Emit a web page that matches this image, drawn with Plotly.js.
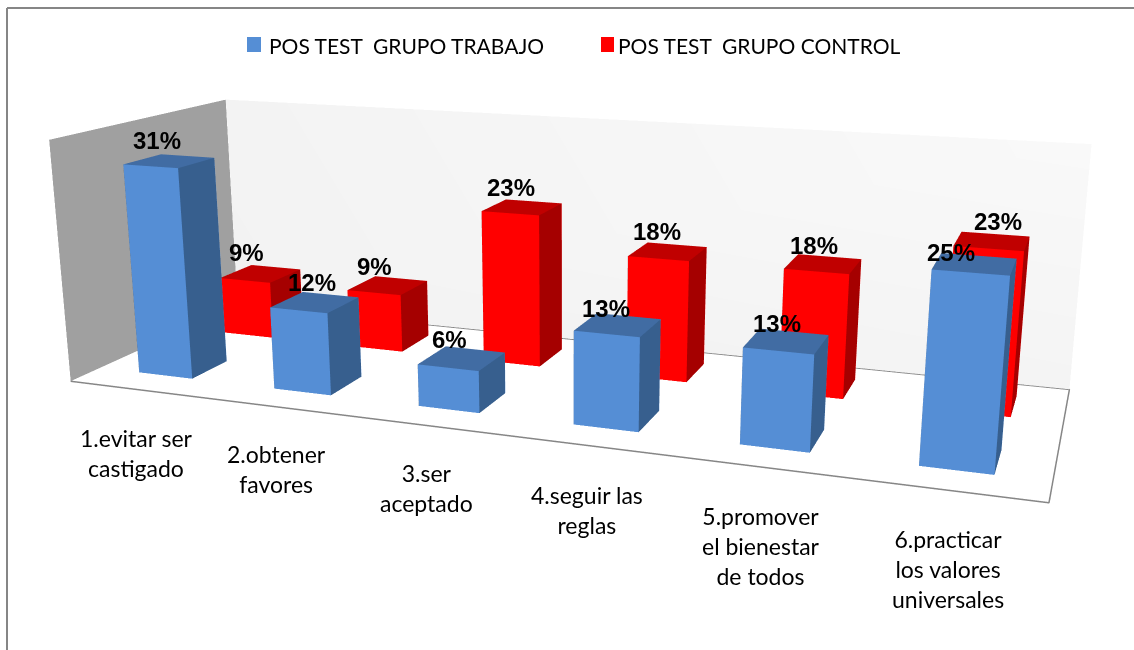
<!DOCTYPE html><html><head><script src="https://cdn.plot.ly/plotly-3.0.1.min.js"></script>
<style>html,body{margin:0;padding:0;overflow:hidden;background:#fff}#g{position:absolute;left:-567px;top:-325px;width:2268px;height:1300px}</style></head><body><div id="g"></div><script>
const categories=['1.evitar ser<br>castigado','2.obtener<br>favores','3.ser<br>aceptado','4.seguir las<br>reglas','5.promover<br>el bienestar<br>de todos','6.practicar<br>los valores<br>universales'];
const seriesNames=['POS TEST  GRUPO TRABAJO','POS TEST  GRUPO CONTROL'];
const trabajo=[31,12,6,13,13,25];
const control=[9,9,23,18,18,23];
const ZMAX=35.2;
const C=[1.2235,-3.3543,.8539,-.7209,1.9879,-.733],A=[2.2627,.7562,.5844];
const W2=2268,H2=1300;
function boxes(vals,y0,y1,x0,w,cf,cs,ct){const X=[],Y=[],Z=[],I=[],J=[],K=[],FC=[];vals.forEach((v,c)=>{const n=X.length,a=c+x0,b=a+w;[[a,y0,0],[b,y0,0],[b,y1,0],[a,y1,0],[a,y0,v],[b,y0,v],[b,y1,v],[a,y1,v]].forEach(p=>{X.push(p[0]);Y.push(p[1]);Z.push(p[2])});const q=(p,r,s,col)=>{I.push(n+p);J.push(n+r);K.push(n+s);FC.push(col)};q(0,1,5,cf);q(0,5,4,cf);q(1,2,6,cs);q(1,6,5,cs);q(4,5,6,ct);q(4,6,7,ct);q(3,2,6,cf);q(3,6,7,cf);q(0,3,7,cs);q(0,7,4,cs)});return {x:X,y:Y,z:Z,i:I,j:J,k:K,facecolor:FC}}
const flat={ambient:1,diffuse:0,specular:0,roughness:1,fresnel:0};
const base={type:'mesh3d',flatshading:true,lighting:flat,hoverinfo:'skip',showlegend:false,showscale:false};
const data=[
 Object.assign({},base,{x:[0,0,0,0],y:[0,1,1,0],z:[0,0,ZMAX,ZMAX],i:[0,0],j:[1,2],k:[2,3],color:'#a0a0a0'}),
 Object.assign({},base,{x:[0,6,6,0],y:[1,1,1,1],z:[0,0,ZMAX,ZMAX],i:[0,0],j:[1,2],k:[2,3],vertexcolor:['#f2f2f2','#f4f4f4','#f9f9f9','#f3f3f3']}),
 {type:'scatter3d',mode:'lines',x:[0,6,6,0],y:[0,0,1,1],z:[0,0,0,0],line:{color:'#868686',width:3},hoverinfo:'skip',showlegend:false},
 Object.assign({},base,{name:seriesNames[0]},boxes(trabajo,.155,.36,.3,.4,'#558ed5','#375f8e','#416ca3')),
 Object.assign({},base,{name:seriesNames[1]},boxes(control,.66,.87,.3,.4,'#ff0000','#a50000','#c00000'))
];
const nudgeTx=[0,10,0,1,3,-11],nudgeTy=[2,1,0,-2,-1,-7],nudgeCx=[-1,0,2,2,4,19],nudgeCy=[3,0,1,2,0,1],nudgeLy=[1,2,2,0,0,0];
const lab=(x,y,z,v,dx,dy)=>({x,y,z,text:'<b>'+v+'%</b>',showarrow:false,xanchor:'center',yanchor:'bottom',xshift:dx,yshift:3+dy,font:{family:'Liberation Sans',size:24,color:'#000'}});
const ann=[];
trabajo.forEach((v,i)=>ann.push(lab(i+.5,.26,v,v,-13+nudgeTx[i],nudgeTy[i])));
control.forEach((v,i)=>ann.push(lab(i+.5,.765,v,v,-13+nudgeCx[i],nudgeCy[i])));
categories.forEach((t,i)=>ann.push({x:i+.5,y:0,z:0,text:t,showarrow:false,xanchor:'center',yanchor:'top',xshift:-1,yshift:-33+nudgeLy[i],font:{family:'Lato',size:23,color:'#000'}}));
const px=v=>(v+567)/W2,py=v=>1-(v+325)/H2;
const rect=(x0,x1,c)=>({type:'rect',xref:'paper',yref:'paper',x0:px(x0),x1:px(x1),y0:py(37),y1:py(52),fillcolor:c,line:{width:0}});
const leg=(x,t)=>({xref:'paper',yref:'paper',x:px(x),y:py(45),text:t,showarrow:false,xanchor:'left',yanchor:'middle',font:{family:'Lato',size:21,color:'#000'}});
Plotly.newPlot('g',data,{width:W2,height:H2,margin:{l:0,r:0,t:0,b:0},paper_bgcolor:'#fff',showlegend:false,
 annotations:[leg(267,seriesNames[0]),leg(616,seriesNames[1])],
 shapes:[rect(247,261,'#558ed5'),rect(601,614,'#ff0000'),
 {type:'line',xref:'paper',yref:'paper',x0:px(7),x1:px(1134),y0:py(8),y1:py(8),line:{color:'#868686',width:2}},{type:'line',xref:'paper',yref:'paper',x0:px(7),x1:px(7),y0:py(8),y1:py(650),line:{color:'#868686',width:2}}],
 scene:{domain:{x:[0,1],y:[0,1]},xaxis:{range:[0,6],visible:false},yaxis:{range:[0,1],visible:false},zaxis:{range:[0,ZMAX],visible:false},aspectmode:'manual',aspectratio:{x:A[0],y:A[1],z:A[2]},camera:{eye:{x:C[0],y:C[1],z:C[2]},center:{x:C[3],y:C[4],z:C[5]},up:{x:0,y:0,z:1}},annotations:ann}
},{displayModeBar:false});
</script></body></html>
